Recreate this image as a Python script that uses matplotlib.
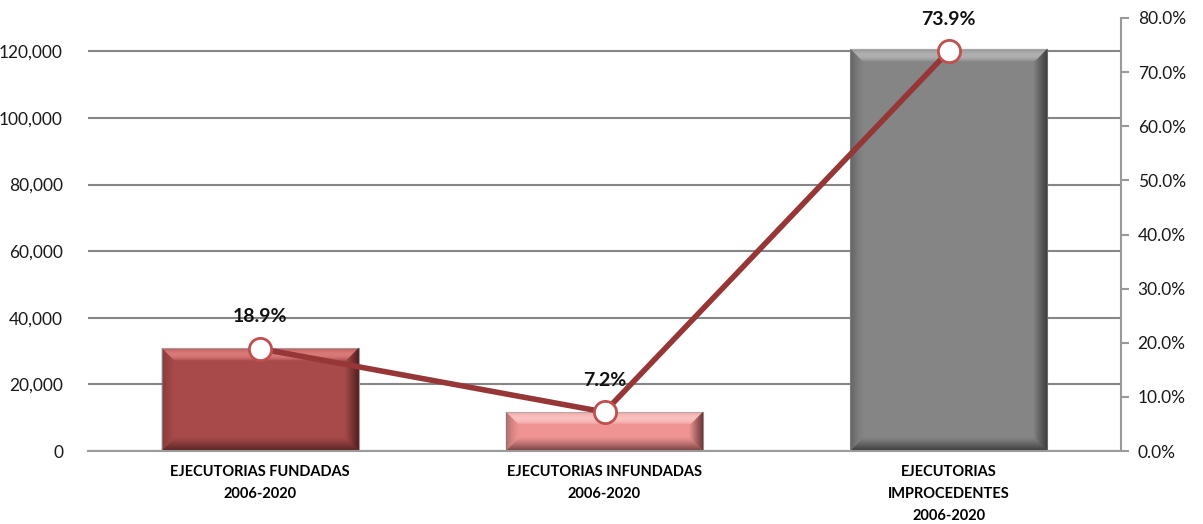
import matplotlib
matplotlib.use("Agg")
import matplotlib.pyplot as plt
from matplotlib.patches import Polygon
from matplotlib.ticker import FuncFormatter
import numpy as np

categories = ["EJECUTORIAS FUNDADAS\n2006-2020",
              "EJECUTORIAS INFUNDADAS\n2006-2020",
              "EJECUTORIAS\nIMPROCEDENTES\n2006-2020"]
counts = [31000, 11800, 120800]
shares = [0.189, 0.072, 0.739]
share_labels = ["18.9%", "7.2%", "73.9%"]

bar_colors = ["#A84A4A", "#EF9393", "#858585"]
light_colors = ["#F08A8A", "#FFD4D4", "#C4C4C4"]
dark_colors = ["#3A1414", "#4A2020", "#202020"]
line_color = "#963636"
marker_edge = "#C0504D"

plt.rcParams["font.family"] = ["Lato", "DejaVu Sans"]

fig = plt.figure(figsize=(12.03, 5.24), dpi=100)
ax = fig.add_axes([88 / 1203, 73 / 524, (1121 - 88) / 1203, (451 - 18) / 524])
ax2 = ax.twinx()

x = np.arange(len(categories))
width = 0.573
bars = ax.bar(x, counts, width=width, color=bar_colors, zorder=2,
              edgecolor="#a0a0a0", linewidth=0.8)

ax.set_xlim(-0.5, 2.5)
ax.set_ylim(0, 130000)
ax.set_yticks(np.arange(0, 120001, 20000))
ax.yaxis.set_major_formatter(FuncFormatter(lambda v, p: f"{int(v):,}"))
ax.grid(axis="y", color="#868686", linewidth=1.5, zorder=0)
ax.set_axisbelow(True)
ax.tick_params(axis="y", length=0, pad=18, labelsize=12.5, labelcolor="#1a1a1a")
ax.tick_params(axis="x", length=0, pad=10)
ax.set_xticks(x)
ax.set_xticklabels(categories, fontsize=10.5, fontweight="bold",
                   linespacing=1.75, va="top")
for s in ["top", "left", "right"]:
    ax.spines[s].set_visible(False)
ax.spines["bottom"].set_color("#9a9a9a")
ax.spines["bottom"].set_linewidth(1.5)

# soft bevel on each bar, built from thin strips in display space
fig.canvas.draw()
inv = ax.transData.inverted()
bevel = 14
steps = 14


def strip(x0, y0, x1, y1, a, b, face):
    # ring segment between inset a and inset b on one side of the rectangle
    if face == "top":
        return [(x0 + a, y1 - a), (x1 - a, y1 - a), (x1 - b, y1 - b), (x0 + b, y1 - b)]
    if face == "bottom":
        return [(x0 + a, y0 + a), (x1 - a, y0 + a), (x1 - b, y0 + b), (x0 + b, y0 + b)]
    if face == "right":
        return [(x1 - a, y0 + a), (x1 - a, y1 - a), (x1 - b, y1 - b), (x1 - b, y0 + b)]
    return [(x0 + a, y0 + a), (x0 + a, y1 - a), (x0 + b, y1 - b), (x0 + b, y0 + b)]


for b, lc, dc in zip(bars, light_colors, dark_colors):
    (x0, y0), (x1, y1) = ax.transData.transform(
        [(b.get_x(), 0), (b.get_x() + b.get_width(), b.get_height())])
    for k in range(steps):
        a = bevel * k / steps
        bb = bevel * (k + 1) / steps
        t = (k + 0.5) / steps
        specs = [
            ("top", lc, 0.85 * np.sin(np.pi * min(1.0, t * 1.1)) ** 0.8),
            ("bottom", dc, 0.75 * (1 - t) ** 1.2),
            ("right", dc, 0.9 * (1 - t) ** 1.1),
            ("left", dc, 0.35 * (1 - t) ** 1.5),
        ]
        for face, col, alpha in specs:
            pts = strip(x0, y0, x1, y1, a, bb, face)
            ax.add_patch(Polygon(inv.transform(pts), closed=True, facecolor=col,
                                 edgecolor="none", alpha=max(alpha, 0.0),
                                 zorder=2.5))

ax2.set_ylim(0, 0.8)
ax2.set_yticks(np.arange(0, 0.81, 0.1))
ax2.yaxis.set_major_formatter(FuncFormatter(lambda v, p: f"{v * 100:.1f}%"))
ax2.tick_params(axis="y", length=6, width=1.5, color="#9a9a9a", pad=6,
                labelsize=12.5, labelcolor="#1a1a1a")
for s in ["top", "left", "bottom"]:
    ax2.spines[s].set_visible(False)
ax2.spines["right"].set_color("#9a9a9a")
ax2.spines["right"].set_linewidth(1.5)

ax2.plot(x, shares, color=line_color, linewidth=4, zorder=3,
         marker="o", markersize=16, markerfacecolor="white",
         markeredgecolor=marker_edge, markeredgewidth=2, clip_on=False)
for xi, s, lab in zip(x, shares, share_labels):
    ax2.annotate(lab, (xi, s), xytext=(0, 23), textcoords="offset points",
                 ha="center", va="center", fontsize=14, fontweight="bold",
                 color="#111111", annotation_clip=False)

fig.savefig("out.png", dpi=100)
